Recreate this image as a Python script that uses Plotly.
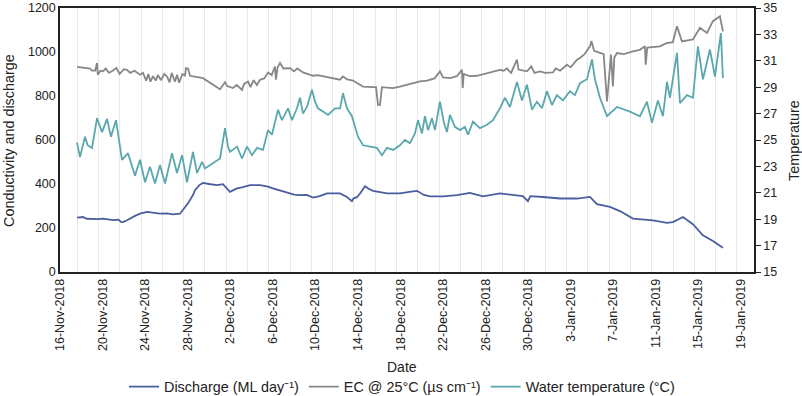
import pandas as pd
import plotly.graph_objects as go

START = pd.Timestamp("2018-11-16")

# Discharge (ML/day) - days since 16-Nov-2018
disc_day = [1.60, 2.16, 2.5, 3.5, 4.04, 5.0, 5.5, 5.73, 5.92, 6.3, 7.05, 7.52, 8.18, 8.74, 9.4,
            10.06, 10.6, 11.28, 11.56, 12.03, 12.5, 12.69, 13.1, 13.44, 14.0, 14.76, 15.32, 15.79,
            15.98, 16.3, 16.64, 17.11, 17.86, 18.8, 19.55, 20.02, 21.33, 22.0, 22.56, 23.2, 23.78,
            24.4, 25.09, 26.32, 26.97, 27.44, 27.6, 27.91, 28.2, 28.67, 29.0, 29.42, 30.73, 31.95,
            33.0, 33.55, 34.2, 34.77, 36.0, 37.31, 38.53, 39.19, 39.76, 41.35, 42.58, 43.5, 43.98,
            44.2, 45.39, 46.99, 48.59, 49.81, 50.47, 51.69, 52.63, 53.85, 55.73, 57.05, 57.61,
            58.55, 59.49, 60.43, 61.37, 62.31]
disc_val = [247, 250, 242, 240, 243, 236, 238, 228, 227, 235, 255, 265, 273, 268, 265,
            266, 262, 265, 281, 312, 350, 372, 395, 405, 400, 395, 399, 375,
            364, 372, 380, 385, 395, 395, 388, 380, 360, 352, 349, 350, 338,
            345, 357, 357, 341, 322, 335, 340, 357, 390, 378, 369, 357, 357,
            365, 369, 350, 344, 344, 349, 360, 350, 344, 357, 349, 345, 322,
            345, 341, 334, 334, 341, 308, 296, 277, 243, 235, 223, 227,
            250, 217, 167, 141, 110]

# EC @ 25C (us/cm)
ec_day = [1.60, 2.3, 2.82, 3.0, 3.3, 3.48, 3.55, 3.8, 4.04, 4.3, 4.6, 4.98, 5.3, 5.6, 6.0, 6.3,
          6.6, 7.0, 7.52, 7.8, 8.1, 8.3, 8.5, 8.74, 9.0, 9.2, 9.5, 9.8, 10.06, 10.3, 10.5, 10.8,
          11.0, 11.2, 11.5, 11.75, 11.84, 12.03, 12.22, 13.44, 14.38, 15.04, 15.51, 15.7, 16.26,
          16.6, 17.11, 17.3, 17.67, 17.9, 18.2, 18.5, 18.8, 19.2, 19.55, 19.9, 20.2, 20.3, 20.45,
          20.68, 21.0, 21.62, 22.0, 22.3, 22.84, 23.2, 23.78, 24.2, 25.09, 25.7, 26.32, 26.6,
          27.0, 27.54, 28.48, 29.42, 29.7, 29.89, 30.08, 30.26, 31.3, 31.95, 32.5, 33.0, 33.83,
          34.5, 35.2, 35.71, 36.0, 36.65, 37.3, 37.78, 37.85, 37.95, 38.5, 39.19, 39.76, 40.7,
          41.35, 41.7, 42.0, 42.4, 42.95, 43.1, 43.89, 44.3, 44.6, 45.11, 45.6, 46.33, 46.6,
          47.0, 47.65, 48.0, 48.59, 48.87, 49.3, 49.81, 49.95, 50.2, 50.75, 51.1, 51.41, 51.6,
          51.79, 51.97, 52.1, 52.35, 53.0, 53.85, 54.5, 54.98, 55.05, 55.2, 56.39, 57.0, 57.6,
          57.99, 58.46, 59.49, 60.15, 60.81, 61.37, 62.03, 62.31]
ec_val = [932, 927, 925, 915, 915, 950, 897, 915, 912, 925, 905, 916, 928, 900, 922, 919,
          905, 915, 897, 905, 870, 900, 865, 890, 870, 895, 872, 900, 889, 862, 905, 865,
          897, 860, 900, 893, 927, 925, 892, 881, 851, 831, 863, 845, 836,
          850, 828, 855, 866, 840, 872, 850, 874, 880, 907, 895, 934, 874, 930,
          950, 925, 927, 912, 925, 907, 900, 892, 895, 886, 880, 874, 889,
          875, 870, 843, 840, 840, 760, 760, 840, 836, 843, 850, 855, 866,
          870, 880, 912, 885, 881, 890, 919, 836, 900, 890, 892, 900, 912,
          919, 915, 925, 905, 965, 920, 912, 935, 905, 912, 905, 907, 925,
          915, 942, 930, 965, 973, 990, 1026, 1050, 1005, 995, 990, 775, 900,
          988, 843, 975, 995, 990, 1003, 1010, 1026, 942, 1020, 1026, 1040, 1045,
          1117, 1048, 1057, 1110, 1087, 1140, 1162, 1094]

# Water temperature (C)
temp_day = [1.60, 1.88, 2.35, 2.6, 3.01, 3.48, 3.95, 4.42, 4.79, 5.26, 5.83, 6.39, 7.05, 7.52,
            7.99, 8.46, 8.93, 9.4, 9.87, 10.53, 11.0, 11.47, 11.94, 12.5, 12.88, 13.35, 13.63,
            15.04, 15.51, 15.79,
            15.98, 16.64, 17.11, 17.58, 18.05, 18.52, 19.08, 19.55, 19.92, 20.49, 20.86, 21.15,
            21.43, 21.80, 22.27, 22.56, 22.84, 23.21, 23.68, 23.97, 24.25, 24.72, 25.19, 25.85,
            26.32, 26.60, 26.97, 27.44, 28.01, 28.48, 29.14, 29.79, 30.26, 30.73, 31.30, 31.95,
            32.42, 32.89, 33.36, 33.65, 34.02, 34.30, 34.59, 34.96, 35.24, 35.71, 36.09, 36.37,
            36.65, 37.12, 37.59, 38.06, 38.35, 38.82, 39.47, 40.13, 40.70, 41.35, 41.82, 42.29,
            42.95, 43.42, 43.89, 44.36, 44.83, 45.30, 45.77, 46.24, 46.71, 47.27, 47.93, 48.40,
            48.87, 49.53, 50.0, 50.28, 50.75, 51.41, 52.35, 53.57, 54.51, 55.17, 55.64, 56.2,
            56.67, 57.05, 57.33, 57.99, 58.27, 58.93, 59.49, 59.96, 60.43, 61.09, 61.56, 62.12,
            62.31]
temp_val = [24.8, 23.7, 25.25, 24.6, 24.4, 26.65, 25.6, 26.6, 25.25, 26.5, 23.5, 24.0, 22.3, 23.5,
            21.8, 22.97, 21.7, 23.1, 21.7, 24.0, 22.5, 23.85, 21.8, 24.1, 22.5, 23.35, 22.85,
            23.6, 25.9, 24.5,
            24.1, 24.5, 23.6, 24.5, 23.85, 24.4, 24.25, 25.75, 25.4, 27.3, 26.5, 27.0,
            27.4, 26.5, 27.4, 28.2, 27.0, 27.5, 28.8, 27.9, 27.4, 27.15, 26.9, 27.4,
            27.4, 28.55, 27.4, 26.8, 25.25, 24.6, 24.5, 24.4, 23.85, 24.4, 24.25, 24.6,
            25.0, 24.75, 25.5, 26.5, 25.5, 26.8, 25.75, 26.65, 25.75, 27.9, 26.3, 25.6,
            26.9, 26.0, 25.75, 26.0, 25.4, 26.4, 25.9, 26.15, 26.5, 27.4, 28.2, 27.5,
            29.4, 28.0, 29.2, 27.3, 27.9, 27.4, 28.7, 27.65, 28.4, 28.0, 28.7, 28.4,
            29.3, 29.6, 31.1, 29.6, 28.2, 26.8, 27.5, 27.15, 26.8, 27.9, 26.3, 28.0,
            26.8, 29.4, 28.2, 31.6, 27.8, 28.4, 28.2, 32.1, 29.6, 31.85, 29.8, 33.1,
            29.7]

def to_dates(days):
    return START + pd.to_timedelta(days, unit="D")

FONT = "Liberation Sans, Arial, sans-serif"

fig = go.Figure()
fig.add_trace(go.Scatter(x=to_dates(disc_day), y=disc_val, mode="lines",
                         name="Discharge (ML day\u207b\u00b9)",
                         line=dict(color="#4a5d9e", width=1.8)))
fig.add_trace(go.Scatter(x=to_dates(ec_day), y=ec_val, mode="lines",
                         name="EC @ 25°C (µs cm\u207b\u00b9)",
                         line=dict(color="#878787", width=1.8)))
fig.add_trace(go.Scatter(x=to_dates(temp_day), y=temp_val, mode="lines",
                         name="Water temperature (°C)", yaxis="y2",
                         line=dict(color="#5aa8ad", width=1.8)))

fig.update_layout(
    width=802, height=396,
    margin=dict(l=60, r=48, t=8, b=124, autoexpand=False),
    paper_bgcolor="white", plot_bgcolor="white",
    font=dict(family=FONT, size=12.5, color="#222"),
    showlegend=True,
    legend=dict(orientation="h", x=0.4928, xanchor="center",
                y=-0.4345, yanchor="middle",
                font=dict(size=14.4), traceorder="normal"),
    xaxis=dict(
        type="date", automargin=False,
        range=[START, START + pd.Timedelta(days=65.23)],
        tickmode="linear", tick0="2018-11-16", dtick=4 * 86400000,
        tickformat="%-d-%b-%Y", tickangle=-90, ticks="",
        showgrid=False, zeroline=False,
        showline=True, linecolor="#222", linewidth=1.5, mirror=True,
        tickfont=dict(size=12.5),
        minor=dict(tickmode="linear", tick0="2018-11-17 15:00", dtick=2 * 86400000,
                   showgrid=True, gridcolor="#e8e8e8", gridwidth=1, ticks=""),
    ),
    yaxis=dict(
        automargin=False,
        range=[0, 1200], dtick=200, showgrid=False, zeroline=False,
        showline=True, linecolor="#222", linewidth=1.5, ticks="",
    ),
    yaxis2=dict(
        automargin=False,
        overlaying="y", side="right", range=[15, 35], dtick=2, tick0=15,
        showgrid=False, zeroline=False, showline=True, linecolor="#222", linewidth=1.5,
        ticks="outside", ticklen=5, tickcolor="#222",
    ),
    annotations=[
        dict(text="Conductivity and discharge", textangle=-90, xref="paper", yref="paper",
             x=-0.0735, y=0.5, xanchor="center", yanchor="middle", showarrow=False,
             font=dict(size=14.4)),
        dict(text="Temperature", textangle=-90, xref="paper", yref="paper",
             x=1.0576, y=0.5, xanchor="center", yanchor="middle", showarrow=False,
             font=dict(size=14.4)),
        dict(text="Date", xref="paper", yref="paper",
             x=0.4928, y=-0.3586, xanchor="center", yanchor="middle", showarrow=False,
             font=dict(size=14)),
    ],
)

# remove the default 8px page margin so the figure fills the window exactly
fig.write_html("out.html", config={"displayModeBar": False},
               post_script="document.body.style.margin='0px';")
